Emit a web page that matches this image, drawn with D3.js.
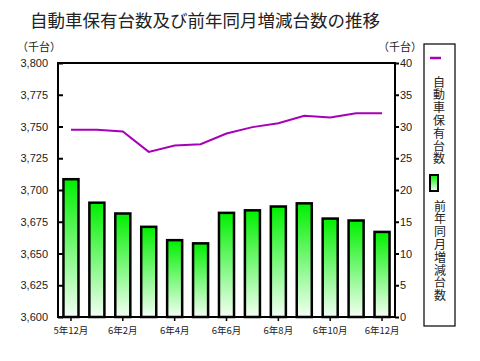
<!DOCTYPE html>
<html><head><meta charset="utf-8">
<script src="https://cdn.jsdelivr.net/npm/d3@7/dist/d3.min.js"></script>
<style>body{margin:0;background:#fff;}svg{display:block;font-family:"Liberation Sans","DejaVu Sans",sans-serif;}</style>
</head><body>
<svg id="c" width="480" height="361"></svg>
<script>
const months = ["5年12月","6年1月","6年2月","6年3月","6年4月","6年5月","6年6月","6年7月","6年8月","6年9月","6年10月","6年11月","6年12月"];
const holdings = [3747.5,3747.5,3746,3730,3735,3736,3744.5,3749.5,3752.5,3758.5,3757,3760.5,3760.5];
const changes = [21.7,18.0,16.3,14.2,12.1,11.6,16.4,16.8,17.4,17.9,15.5,15.2,13.4];
const leftTicks = [3600,3625,3650,3675,3700,3725,3750,3775,3800];
const rightTicks = [0,5,10,15,20,25,30,35,40];
const xLabelShown = ["5年12月","6年2月","6年4月","6年6月","6年8月","6年10月","6年12月"];
const title = "自動車保有台数及び前年同月増減台数の推移";
const legendLine = "自動車保有台数";
const legendBar = "前年同月増減台数";
const unit = "（千台）";

const svg = d3.select("#c");
const L=58, R=395, T=63, B=317;
const cjk = '"Noto Sans CJK JP","Noto Sans CJK SC",sans-serif';

const x = d3.scaleBand().domain(months).range([L,R]).paddingInner(0.42).paddingOuter(0.21);
const yL = d3.scaleLinear().domain([3600,3800]).range([B,T]);
const yR = d3.scaleLinear().domain([0,40]).range([B,T]);

const defs = svg.append("defs");
const g = defs.append("linearGradient").attr("id","gr").attr("x1",0).attr("y1",0).attr("x2",0).attr("y2",1);
g.append("stop").attr("offset","0%").attr("stop-color","#00f000");
g.append("stop").attr("offset","100%").attr("stop-color","#f4fff4");

// title
svg.append("text").attr("x",30).attr("y",27).attr("font-family",cjk).attr("font-size",17.5).attr("fill","#222").text(title);
svg.append("text").attr("x",17).attr("y",51).attr("font-family",cjk).attr("font-size",11).attr("fill","#222").text(unit);
svg.append("text").attr("x",378).attr("y",51).attr("font-family",cjk).attr("font-size",11).attr("fill","#222").text(unit);

// bars
svg.append("g").selectAll("rect").data(changes).join("rect")
  .attr("x",(d,i)=>x(months[i])).attr("width",x.bandwidth())
  .attr("y",d=>yR(d)).attr("height",d=>yR(0)-yR(d))
  .attr("fill","url(#gr)").attr("stroke","#000").attr("stroke-width",2.5);

// line
const line = d3.line().x((d,i)=>x(months[i])+x.bandwidth()/2).y(d=>yL(d));
svg.append("path").datum(holdings).attr("d",line).attr("fill","none").attr("stroke","#a800b8").attr("stroke-width",2);

// frame
svg.append("rect").attr("x",L).attr("y",T).attr("width",R-L).attr("height",B-T).attr("fill","none").attr("stroke","#000").attr("stroke-width",2);

// left axis
const ax = d3.axisLeft(yL).tickValues(leftTicks).tickSize(-5).tickPadding(10).tickFormat(d3.format(","));
const gl = svg.append("g").attr("transform",`translate(${L},0)`).call(ax);
gl.select(".domain").remove();
gl.selectAll("line").attr("stroke","#000").attr("stroke-width",2);
gl.selectAll("text").attr("font-size",11).attr("fill","#222");

// right axis
const ar = d3.axisRight(yR).tickValues(rightTicks).tickSize(4).tickPadding(1);
const gr = svg.append("g").attr("transform",`translate(${R},0)`).call(ar);
gr.select(".domain").remove();
gr.selectAll("line").attr("stroke","#000").attr("stroke-width",2);
gr.selectAll("text").attr("font-size",11).attr("fill","#222");

// bottom axis
const ab = d3.axisBottom(x).tickValues(xLabelShown).tickSize(4).tickPadding(6);
const gb = svg.append("g").attr("transform",`translate(0,${B})`).call(ab);
gb.select(".domain").remove();
gb.selectAll("line").attr("stroke","#000").attr("stroke-width",1.5);
gb.selectAll("text").attr("font-family",cjk).attr("font-size",9.5).attr("fill","#222");

// legend
svg.append("rect").attr("x",424).attr("y",44).attr("width",31).attr("height",282).attr("fill","#fff").attr("stroke","#000").attr("stroke-width",1.2);
svg.append("line").attr("x1",430).attr("x2",441).attr("y1",58).attr("y2",58).attr("stroke","#a800b8").attr("stroke-width",2.5);
svg.append("rect").attr("x",430).attr("y",175).attr("width",8).attr("height",16).attr("fill","url(#gr)").attr("stroke","#000").attr("stroke-width",2);
function vtext(str, x0, y0){
  svg.append("text").attr("x",x0).attr("y",y0)
    .style("writing-mode","vertical-rl").style("letter-spacing","0.8px")
    .attr("font-family",cjk).attr("font-size",12).attr("fill","#222").text(str);
}
vtext(legendLine, 439, 76);
vtext(legendBar, 440, 200);
</script>
</body></html>
